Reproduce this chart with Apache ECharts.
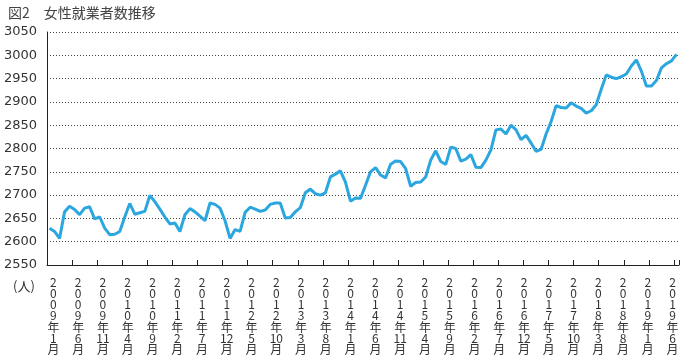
<!DOCTYPE html>
<html><head><meta charset="utf-8">
<script src="https://cdn.jsdelivr.net/npm/echarts@6/dist/echarts.min.js"></script>
<style>html,body{margin:0;padding:0;background:#fff}#c{width:695px;height:360px}</style>
</head><body><div id="c"></div>
<script>
// monthly categories 2009年1月 .. 2019年6月
const months = [];
for (let y = 2009; y <= 2019; y++) {
  for (let m = 1; m <= 12; m++) {
    if (y === 2019 && m > 6) break;
    months.push(y + '年' + m + '月');
  }
}
const tickLabels = months.filter((_, i) => i % 5 === 0);

const values2009 = [2629,2622,2607,2664,2676,2669,2658,2672,2675,2649,2653,2629];
const values2010 = [2615,2616,2622,2653,2682,2659,2662,2665,2699,2686,2670,2653];
const values2011 = [2638,2640,2622,2658,2671,2664,2655,2645,2683,2680,2672,2645];
const values2012 = [2607,2626,2622,2663,2674,2670,2665,2668,2680,2683,2683,2651];
const values2013 = [2652,2664,2673,2705,2713,2703,2700,2705,2739,2745,2752,2728];
const values2014 = [2687,2694,2693,2721,2750,2759,2743,2737,2766,2773,2772,2757];
const values2015 = [2719,2727,2728,2739,2775,2795,2772,2766,2803,2800,2773,2777];
const values2016 = [2787,2760,2759,2775,2797,2840,2842,2831,2850,2840,2819,2828];
const values2017 = [2812,2794,2798,2831,2858,2892,2888,2887,2898,2891,2886,2876];
const values2018 = [2881,2894,2927,2958,2953,2950,2954,2960,2977,2990,2966,2934];
const values2019 = [2934,2946,2973,2982,2988,3002];
const values = [].concat(values2009,values2010,values2011,values2012,values2013,values2014,
  values2015,values2016,values2017,values2018,values2019);

function vert(label) {
  const m = label.match(/(\d+)年(\d+)月/);
  return m[1].split('').join('\n') + '\n年\n' + m[2] + '\n月';
}

const chart = echarts.init(document.getElementById('c'), null, {renderer: 'canvas'});
chart.setOption({
  animation: false,
  backgroundColor: '#fff',
  title: {
    text: '図2　女性就業者数推移', left: 3, top: 1,
    textStyle: {fontSize: 14, fontWeight: 'normal', color: '#444', fontFamily: 'Noto Sans CJK JP'}
  },
  graphic: [{
    type: 'text', left: 13, top: 280,
    style: {text: '(人)', fontSize: 13, fill: '#333', fontFamily: 'Noto Sans CJK JP'}
  }],
  grid: [
    {left: 47, right: 16, top: 32, bottom: 95},
    {left: 41, right: 10, top: 32, bottom: 95}
  ],
  xAxis: [{
    type: 'category', gridIndex: 0, data: months, boundaryGap: true,
    axisLine: {lineStyle: {color: '#222', width: 1}},
    axisTick: {show: true, inside: true, length: 5, interval: 4, lineStyle: {color: '#222'}},
    axisLabel: {show: false},
    splitLine: {show: false}
  }, {
    type: 'category', gridIndex: 1, data: tickLabels, boundaryGap: true,
    axisLine: {show: false}, axisTick: {show: false},
    axisLabel: {
      interval: 0, margin: 12, formatter: vert,
      fontSize: 12, lineHeight: 11.1, color: '#333', fontFamily: 'Noto Sans CJK JP'
    }
  }],
  yAxis: [{
    type: 'value', gridIndex: 0, min: 2550, max: 3050, interval: 50,
    axisLine: {show: true, lineStyle: {color: '#222', width: 1}},
    axisTick: {show: false},
    axisLabel: {margin: 10, fontSize: 13, color: '#333', fontFamily: 'DejaVu Sans',
      formatter: v => String(v)},
    splitLine: {show: true, lineStyle: {color: '#444', width: 1, type: [1, 2]}}
  }, {
    type: 'value', gridIndex: 1, show: false, min: 0, max: 1
  }],
  series: [{
    type: 'line', xAxisIndex: 0, yAxisIndex: 0, data: values,
    showSymbol: false, smooth: false,
    lineStyle: {color: '#2ba6de', width: 3}, itemStyle: {color: '#2ba6de'}
  }]
});
</script></body></html>
